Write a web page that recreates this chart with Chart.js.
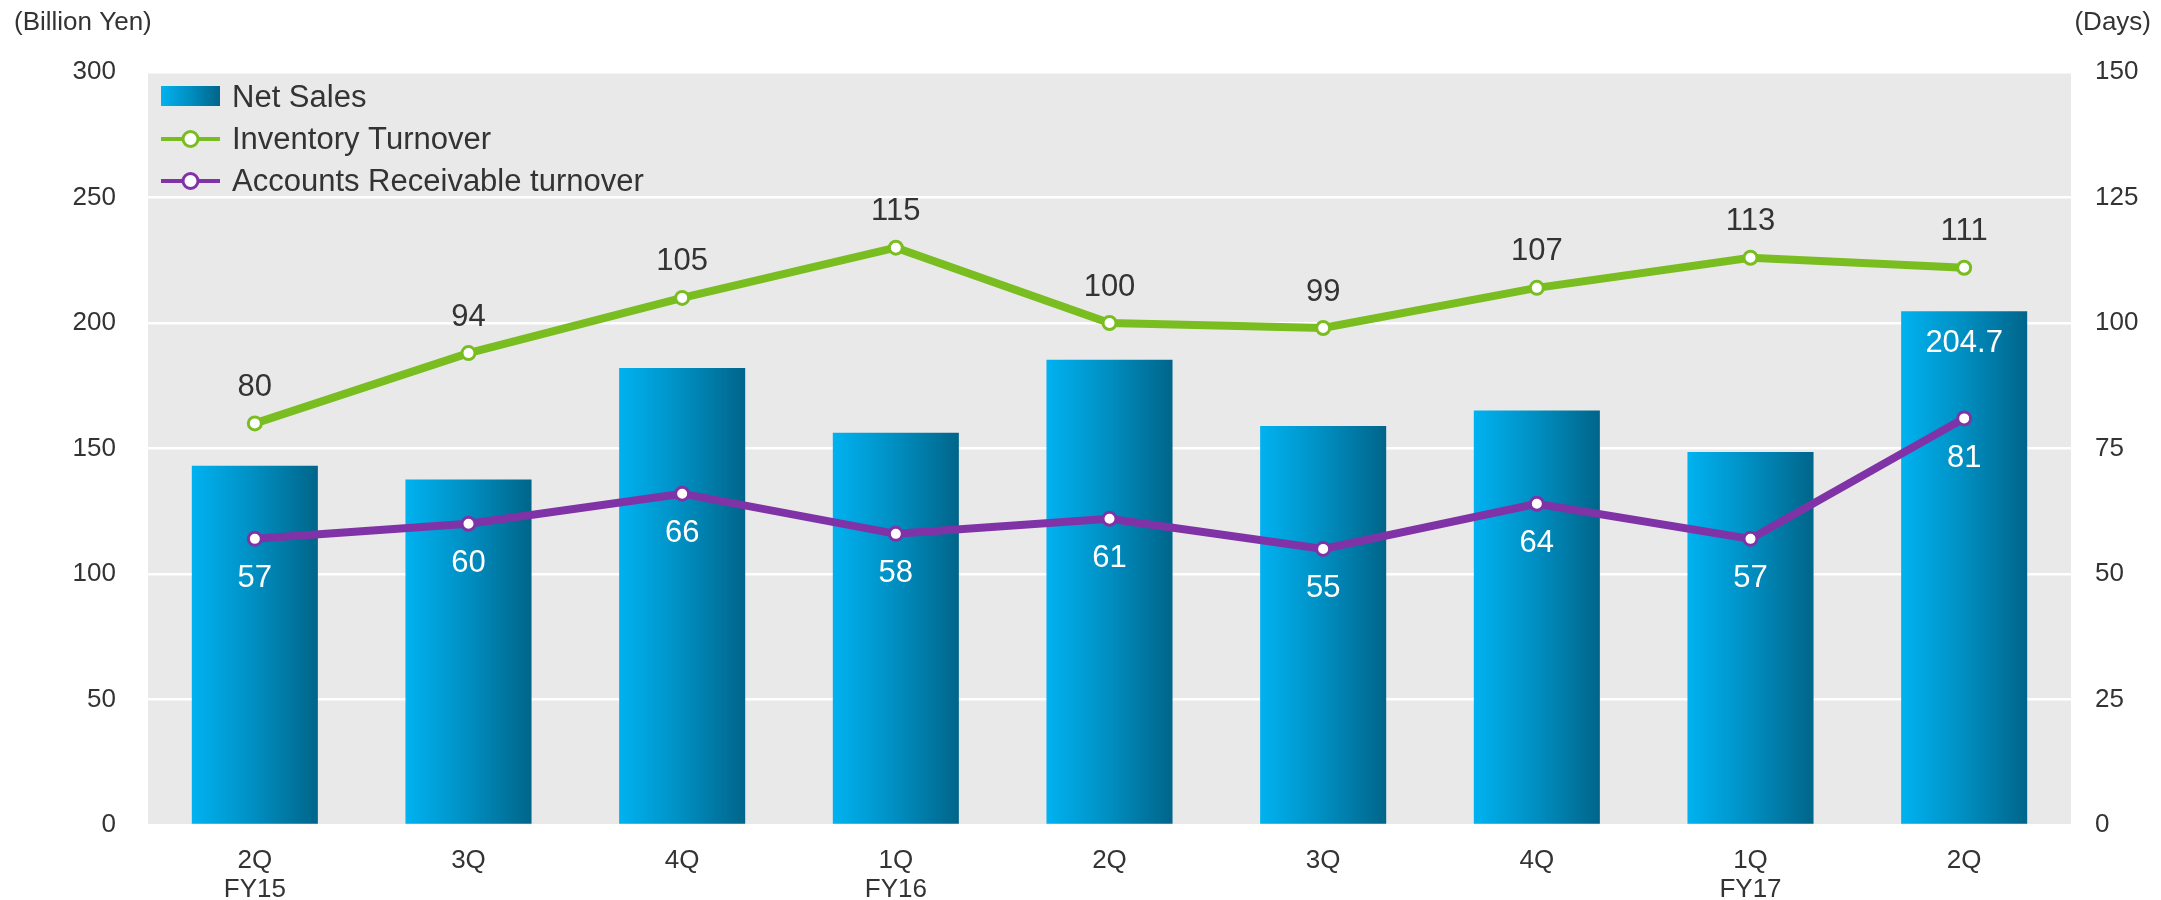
<!DOCTYPE html>
<html>
<head>
<meta charset="utf-8">
<script src="https://cdn.jsdelivr.net/npm/chart.js@4.4.1/dist/chart.umd.min.js"></script>
<style>
  html, body { margin: 0; padding: 0; background: #fff; }
  #wrap { width: 2161px; height: 900px; }
</style>
</head>
<body>
<div id="wrap"><canvas id="chart" width="2161" height="900"></canvas></div>
<script>
// data
const quarterLabels = [['2Q', 'FY15'], ['3Q'], ['4Q'], ['1Q', 'FY16'], ['2Q'], ['3Q'], ['4Q'], ['1Q', 'FY17'], ['2Q']];
const netSales = [143.1, 137.6, 182.1, 156.3, 185.4, 159.0, 165.1, 148.6, 204.7];
const salesLabels = ['', '', '', '', '', '', '', '', '204.7'];
const inventoryTurnover = [80, 94, 105, 115, 100, 99, 107, 113, 111];
const receivableTurnover = [57, 60, 66, 58, 61, 55, 64, 57, 81];
const yenTicks = [0, 50, 100, 150, 200, 250, 300];
const dayTicks = [0, 25, 50, 75, 100, 125, 150];

const FONT = '"Liberation Sans", Arial, sans-serif';
const TEXT = '#333333';
const GREEN = '#79bd21';
const PURPLE = '#8033a6';
const BAR_PCT = 0.59;

Chart.defaults.font.family = FONT;
Chart.defaults.color = TEXT;

function makeGradient(ctx, left, right) {
    const g = ctx.createLinearGradient(left, 0, right, 0);
    g.addColorStop(0, '#00b2f0');
    g.addColorStop(0.45, '#0092c6');
    g.addColorStop(1, '#00658a');
    return g;
}

function barGradient(context) {
    const chart = context.chart;
    const xs = chart.scales.x;
    if (!xs || !chart.chartArea) return '#00a0dc';
    const cx = xs.getPixelForValue(context.dataIndex);
    const w = xs.width / quarterLabels.length * BAR_PCT;
    return makeGradient(chart.ctx, cx - w / 2, cx + w / 2);
}

const plotBackground = {
    id: 'plotBackground',
    beforeDraw(chart) {
        const { ctx, chartArea } = chart;
        ctx.save();
        ctx.fillStyle = '#e9e9e9';
        ctx.fillRect(chartArea.left, chartArea.top, chartArea.right - chartArea.left, chartArea.bottom - chartArea.top);
        ctx.restore();
    }
};

const valueLabels = {
    id: 'valueLabels',
    afterDatasetsDraw(chart) {
        const ctx = chart.ctx;
        ctx.save();
        ctx.font = '31px ' + FONT;
        ctx.textAlign = 'center';
        ctx.textBaseline = 'middle';
        chart.getDatasetMeta(0).data.forEach((el, i) => {
            if (!salesLabels[i]) return;
            ctx.fillStyle = '#ffffff';
            ctx.fillText(salesLabels[i], el.x, el.y + 32);
        });
        chart.getDatasetMeta(1).data.forEach((el, i) => {
            ctx.fillStyle = TEXT;
            ctx.fillText(String(inventoryTurnover[i]), el.x, el.y - 36);
        });
        chart.getDatasetMeta(2).data.forEach((el, i) => {
            ctx.fillStyle = '#ffffff';
            ctx.fillText(String(receivableTurnover[i]), el.x, el.y + 40);
        });
        ctx.restore();
    }
};

const legendAndTitles = {
    id: 'legendAndTitles',
    afterDraw(chart) {
        const ctx = chart.ctx;
        ctx.save();
        // axis titles
        ctx.font = '26px ' + FONT;
        ctx.fillStyle = TEXT;
        ctx.textBaseline = 'middle';
        ctx.textAlign = 'left';
        ctx.fillText('(Billion Yen)', 14, 23);
        ctx.textAlign = 'right';
        ctx.fillText('(Days)', 2151, 23);

        // legend inside the plot
        const x0 = 161, x1 = 220, tx = 232;
        const rows = [97, 139, 181];
        ctx.textAlign = 'left';
        ctx.font = '31px ' + FONT;
        chart.data.datasets.forEach((ds, i) => {
            const y = rows[i];
            if (ds.type === 'bar') {
                ctx.fillStyle = makeGradient(ctx, x0, x1);
                ctx.fillRect(x0, y - 11, x1 - x0, 20);
            } else {
                ctx.strokeStyle = ds.borderColor;
                ctx.lineWidth = 4;
                ctx.beginPath();
                ctx.moveTo(x0, y);
                ctx.lineTo(x1, y);
                ctx.stroke();
                ctx.beginPath();
                ctx.arc((x0 + x1) / 2, y, 7.5, 0, Math.PI * 2);
                ctx.fillStyle = '#ffffff';
                ctx.fill();
                ctx.lineWidth = 3;
                ctx.stroke();
            }
            ctx.fillStyle = TEXT;
            ctx.fillText(ds.label, tx, y + 1);
        });
        ctx.restore();
    }
};

new Chart(document.getElementById('chart'), {
    data: {
        labels: quarterLabels,
        datasets: [
            {
                type: 'bar',
                label: 'Net Sales',
                data: netSales,
                yAxisID: 'y',
                backgroundColor: barGradient,
                borderWidth: 0,
                categoryPercentage: 1,
                barPercentage: BAR_PCT,
                order: 3
            },
            {
                type: 'line',
                label: 'Inventory Turnover',
                data: inventoryTurnover,
                yAxisID: 'y1',
                borderColor: GREEN,
                borderWidth: 8,
                pointRadius: 6.5,
                pointBorderWidth: 3,
                pointBackgroundColor: '#ffffff',
                pointBorderColor: GREEN,
                tension: 0,
                order: 1
            },
            {
                type: 'line',
                label: 'Accounts Receivable turnover',
                data: receivableTurnover,
                yAxisID: 'y1',
                borderColor: PURPLE,
                borderWidth: 8,
                pointRadius: 6.5,
                pointBorderWidth: 3,
                pointBackgroundColor: '#ffffff',
                pointBorderColor: PURPLE,
                tension: 0,
                order: 2
            }
        ]
    },
    options: {
        responsive: false,
        animation: false,
        devicePixelRatio: 1,
        layout: { padding: { top: 72, left: 0, right: 0, bottom: 0 } },
        plugins: {
            legend: { display: false },
            tooltip: { enabled: false }
        },
        scales: {
            x: {
                grid: { display: false },
                border: { display: false },
                ticks: { font: { size: 26, lineHeight: 1.12 }, color: TEXT, padding: 13, maxRotation: 0 },
                afterFit(scale) { scale.height = 75; }
            },
            y: {
                position: 'left',
                min: 0,
                max: 300,
                afterBuildTicks(scale) { scale.ticks = yenTicks.map(v => ({ value: v })); },
                grid: { color: '#ffffff', lineWidth: 2.5, drawTicks: false },
                border: { display: false },
                ticks: { font: { size: 26 }, color: TEXT, padding: 32 },
                afterFit(scale) { scale.width = 148; }
            },
            y1: {
                position: 'right',
                min: 0,
                max: 150,
                afterBuildTicks(scale) { scale.ticks = dayTicks.map(v => ({ value: v })); },
                grid: { display: false, drawTicks: false },
                border: { display: false },
                ticks: { font: { size: 26 }, color: TEXT, padding: 24 },
                afterFit(scale) { scale.width = 90; }
            }
        }
    },
    plugins: [plotBackground, valueLabels, legendAndTitles]
});
</script>
</body>
</html>
